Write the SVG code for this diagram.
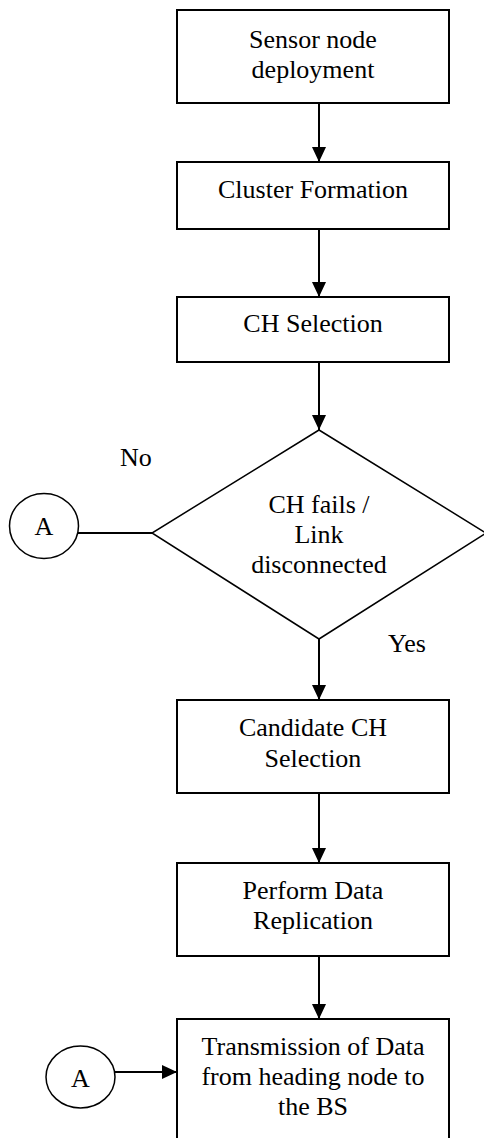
<svg xmlns="http://www.w3.org/2000/svg" width="484" height="1138" viewBox="0 0 484 1138">
<style>
.box{fill:#fff;stroke:#000;stroke-width:2}
.t{font-family:"Liberation Serif","Times New Roman",serif;font-size:26px;fill:#000;text-anchor:middle}
.tl{font-family:"Liberation Serif","Times New Roman",serif;font-size:26px;fill:#000}
.c{fill:none;stroke:#000;stroke-width:2}
</style>
<defs>
<marker id="ah" viewBox="0 0 15 14" refX="15" refY="7" markerWidth="15" markerHeight="14" markerUnits="userSpaceOnUse" orient="auto">
<path d="M0,0 L15,7 L0,14 z" fill="#000"/>
</marker>
</defs>
<rect width="484" height="1138" fill="#fff"/>
<g id="connectors">
<line class="c" x1="319" y1="103" x2="319" y2="162" marker-end="url(#ah)"/>
<line class="c" x1="319" y1="229" x2="319" y2="297" marker-end="url(#ah)"/>
<line class="c" x1="319" y1="362" x2="319" y2="430" marker-end="url(#ah)"/>
<line class="c" x1="319" y1="639" x2="319" y2="700" marker-end="url(#ah)"/>
<line class="c" x1="319" y1="793" x2="319" y2="863" marker-end="url(#ah)"/>
<line class="c" x1="319" y1="956" x2="319" y2="1019" marker-end="url(#ah)"/>
<line class="c" x1="78" y1="533" x2="152" y2="533" stroke-width="1.5"/>
<line class="c" x1="115" y1="1072" x2="177" y2="1072" marker-end="url(#ah)"/>
<text class="tl" x="120" y="466">No</text>
<text class="tl" x="388" y="652">Yes</text>
</g>
<g id="n1">
<rect class="box" x="177" y="10" width="272" height="93"/>
<text class="t" x="313" y="48">Sensor node</text>
<text class="t" x="313" y="78">deployment</text>
</g>
<g id="n2">
<rect class="box" x="177" y="162" width="272" height="67"/>
<text class="t" x="313" y="198">Cluster Formation</text>
</g>
<g id="n3">
<rect class="box" x="177" y="297" width="272" height="65"/>
<text class="t" x="313" y="332">CH Selection</text>
</g>
<g id="n4">
<polygon points="319,430 486,533 319,639 152,533" fill="#fff" stroke="#000" stroke-width="1.5"/>
<text class="t" x="319" y="513">CH fails /</text>
<text class="t" x="319" y="543">Link</text>
<text class="t" x="319" y="573">disconnected</text>
</g>
<g id="a1">
<ellipse cx="44" cy="526" rx="34.5" ry="32.5" fill="#fff" stroke="#000" stroke-width="1.5"/>
<text class="t" x="44" y="535">A</text>
</g>
<g id="n5">
<rect class="box" x="177" y="700" width="272" height="93"/>
<text class="t" x="313" y="736">Candidate CH</text>
<text class="t" x="313" y="767">Selection</text>
</g>
<g id="n6">
<rect class="box" x="177" y="863" width="272" height="93"/>
<text class="t" x="313" y="899">Perform Data</text>
<text class="t" x="313" y="929">Replication</text>
</g>
<g id="n7">
<rect class="box" x="177" y="1019" width="272" height="130"/>
<text class="t" x="313" y="1055">Transmission of Data</text>
<text class="t" x="313" y="1085">from heading node to</text>
<text class="t" x="313" y="1115">the BS</text>
</g>
<g id="a2">
<ellipse cx="80.5" cy="1077" rx="34.5" ry="31" fill="#fff" stroke="#000" stroke-width="1.5"/>
<text class="t" x="80.5" y="1087">A</text>
</g>
</svg>
